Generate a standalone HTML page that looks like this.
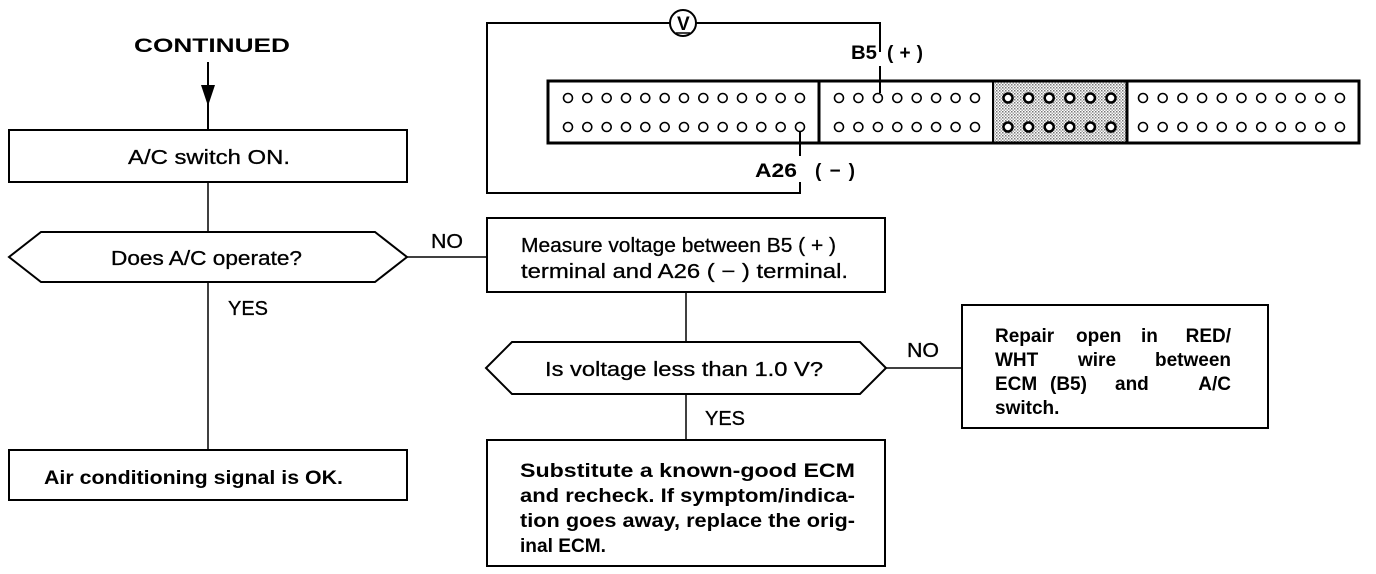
<!DOCTYPE html>
<html><head><meta charset="utf-8"><style>
html,body{margin:0;padding:0;background:#fff;}
svg{display:block;}
text{font-family:"Liberation Sans",sans-serif;fill:#000;}
.n{font-size:20px;stroke:#000;stroke-width:0.3;}
.b{font-size:19px;font-weight:bold;}
</style></head><body>
<svg width="1376" height="574" viewBox="0 0 1376 574" xmlns="http://www.w3.org/2000/svg">
<defs>
<pattern id="dots" width="3" height="3" patternUnits="userSpaceOnUse">
<rect width="3" height="3" fill="#fff"/><rect width="1.5" height="1.5" fill="#777"/><rect x="1.5" y="1.5" width="1.5" height="1.5" fill="#aaa"/>
</pattern>
</defs>
<g fill="none" stroke="#000">
<line x1="208" y1="62" x2="208" y2="130" stroke-width="2"/>
<polygon points="201,85 215,85 208,106" fill="#000" stroke="none"/>
<rect x="9" y="130" width="398" height="52" stroke-width="2"/>
<line x1="208" y1="182" x2="208" y2="232" stroke-width="1.5"/>
<polygon points="41,232 375,232 407,257 375,282 41,282 9,257" stroke-width="2"/>
<line x1="208" y1="282" x2="208" y2="450" stroke-width="1.5"/>
<rect x="9" y="450" width="398" height="50" stroke-width="2"/>
<line x1="407" y1="257" x2="487" y2="257" stroke-width="1.5"/>
<rect x="487" y="218" width="398" height="74" stroke-width="2"/>
<line x1="686" y1="292" x2="686" y2="342" stroke-width="1.5"/>
<polygon points="512,342 860,342 886,368 860,394 512,394 486,368" stroke-width="2"/>
<line x1="686" y1="394" x2="686" y2="440" stroke-width="1.5"/>
<rect x="487" y="440" width="398" height="126" stroke-width="2"/>
<line x1="886" y1="368" x2="962" y2="368" stroke-width="1.5"/>
<rect x="962" y="305" width="306" height="123" stroke-width="2"/>
<polyline points="670,23 487,23 487,193 800,193 800,182" stroke-width="2"/>
<polyline points="696,23 880,23 880,52" stroke-width="2"/>
<circle cx="683" cy="23" r="13" stroke-width="2"/>
<line x1="880" y1="66" x2="880" y2="93" stroke-width="2"/>
<line x1="800" y1="131" x2="800" y2="156" stroke-width="2"/>
<rect x="993" y="81" width="134" height="62" fill="url(#dots)" stroke="none"/>
<rect x="548" y="81" width="811" height="62" stroke-width="3"/>
<line x1="819" y1="81" x2="819" y2="143" stroke-width="3"/>
<line x1="993" y1="81" x2="993" y2="143" stroke-width="2"/>
<line x1="1127" y1="81" x2="1127" y2="143" stroke-width="3"/>
</g>
<g fill="#fff" stroke="#000" stroke-width="1.6">
<circle cx="568" cy="98" r="4.5"/><circle cx="587.3" cy="98" r="4.5"/><circle cx="606.7" cy="98" r="4.5"/><circle cx="626" cy="98" r="4.5"/><circle cx="645.3" cy="98" r="4.5"/><circle cx="664.7" cy="98" r="4.5"/><circle cx="684" cy="98" r="4.5"/><circle cx="703.3" cy="98" r="4.5"/><circle cx="722.7" cy="98" r="4.5"/><circle cx="742" cy="98" r="4.5"/><circle cx="761.3" cy="98" r="4.5"/><circle cx="780.7" cy="98" r="4.5"/><circle cx="800" cy="98" r="4.5"/>
<circle cx="568" cy="127" r="4.5"/><circle cx="587.3" cy="127" r="4.5"/><circle cx="606.7" cy="127" r="4.5"/><circle cx="626" cy="127" r="4.5"/><circle cx="645.3" cy="127" r="4.5"/><circle cx="664.7" cy="127" r="4.5"/><circle cx="684" cy="127" r="4.5"/><circle cx="703.3" cy="127" r="4.5"/><circle cx="722.7" cy="127" r="4.5"/><circle cx="742" cy="127" r="4.5"/><circle cx="761.3" cy="127" r="4.5"/><circle cx="780.7" cy="127" r="4.5"/><circle cx="800" cy="127" r="4.5"/>
<circle cx="839" cy="98" r="4.5"/><circle cx="858.4" cy="98" r="4.5"/><circle cx="877.9" cy="98" r="4.5"/><circle cx="897.3" cy="98" r="4.5"/><circle cx="916.7" cy="98" r="4.5"/><circle cx="936.1" cy="98" r="4.5"/><circle cx="955.6" cy="98" r="4.5"/><circle cx="975" cy="98" r="4.5"/>
<circle cx="839" cy="127" r="4.5"/><circle cx="858.4" cy="127" r="4.5"/><circle cx="877.9" cy="127" r="4.5"/><circle cx="897.3" cy="127" r="4.5"/><circle cx="916.7" cy="127" r="4.5"/><circle cx="936.1" cy="127" r="4.5"/><circle cx="955.6" cy="127" r="4.5"/><circle cx="975" cy="127" r="4.5"/>
<g stroke-width="2.5">
<circle cx="1008" cy="98" r="4.5"/><circle cx="1028.6" cy="98" r="4.5"/><circle cx="1049.2" cy="98" r="4.5"/><circle cx="1069.8" cy="98" r="4.5"/><circle cx="1090.4" cy="98" r="4.5"/><circle cx="1111" cy="98" r="4.5"/>
<circle cx="1008" cy="127" r="4.5"/><circle cx="1028.6" cy="127" r="4.5"/><circle cx="1049.2" cy="127" r="4.5"/><circle cx="1069.8" cy="127" r="4.5"/><circle cx="1090.4" cy="127" r="4.5"/><circle cx="1111" cy="127" r="4.5"/>
</g>
<circle cx="1143" cy="98" r="4.5"/><circle cx="1162.7" cy="98" r="4.5"/><circle cx="1182.4" cy="98" r="4.5"/><circle cx="1202.1" cy="98" r="4.5"/><circle cx="1221.8" cy="98" r="4.5"/><circle cx="1241.5" cy="98" r="4.5"/><circle cx="1261.2" cy="98" r="4.5"/><circle cx="1280.9" cy="98" r="4.5"/><circle cx="1300.6" cy="98" r="4.5"/><circle cx="1320.3" cy="98" r="4.5"/><circle cx="1340" cy="98" r="4.5"/>
<circle cx="1143" cy="127" r="4.5"/><circle cx="1162.7" cy="127" r="4.5"/><circle cx="1182.4" cy="127" r="4.5"/><circle cx="1202.1" cy="127" r="4.5"/><circle cx="1221.8" cy="127" r="4.5"/><circle cx="1241.5" cy="127" r="4.5"/><circle cx="1261.2" cy="127" r="4.5"/><circle cx="1280.9" cy="127" r="4.5"/><circle cx="1300.6" cy="127" r="4.5"/><circle cx="1320.3" cy="127" r="4.5"/><circle cx="1340" cy="127" r="4.5"/>
</g>
<text x="677" y="30" class="b" font-size="18">V</text>
<line x1="676" y1="33" x2="690" y2="33" stroke="#000" stroke-width="1.5"/>
<text x="851" y="59" class="b" textLength="26" lengthAdjust="spacingAndGlyphs">B5</text>
<text x="887" y="59" class="b" textLength="36" lengthAdjust="spacing">( + )</text>
<text x="755" y="177" class="b" textLength="42" lengthAdjust="spacingAndGlyphs">A26</text>
<text x="815" y="177" class="b" textLength="40" lengthAdjust="spacing">( − )</text>
<text x="134" y="52" class="b" font-size="22" textLength="156" lengthAdjust="spacingAndGlyphs">CONTINUED</text>
<text x="128" y="164" class="n" textLength="162" lengthAdjust="spacingAndGlyphs">A/C switch ON.</text>
<text x="111" y="265" class="n" textLength="191" lengthAdjust="spacingAndGlyphs">Does A/C operate?</text>
<text x="228" y="315" class="n" textLength="40" lengthAdjust="spacingAndGlyphs">YES</text>
<text x="431" y="248" class="n" textLength="32" lengthAdjust="spacingAndGlyphs">NO</text>
<text x="44" y="484" class="b" textLength="299" lengthAdjust="spacingAndGlyphs">Air conditioning signal is OK.</text>
<text x="521" y="252" class="n" textLength="315" lengthAdjust="spacingAndGlyphs">Measure voltage between B5 ( + )</text>
<text x="521" y="278" class="n" textLength="327" lengthAdjust="spacingAndGlyphs">terminal and A26 ( − ) terminal.</text>
<text x="545" y="376" class="n" textLength="278" lengthAdjust="spacingAndGlyphs">Is voltage less than 1.0 V?</text>
<text x="705" y="425" class="n" textLength="40" lengthAdjust="spacingAndGlyphs">YES</text>
<text x="907" y="357" class="n" textLength="32" lengthAdjust="spacingAndGlyphs">NO</text>
<text x="520" y="477" class="b" textLength="335" lengthAdjust="spacingAndGlyphs">Substitute a known-good ECM</text>
<text x="520" y="502" class="b" textLength="335" lengthAdjust="spacingAndGlyphs">and recheck. If symptom/indica-</text>
<text x="520" y="527" class="b" textLength="335" lengthAdjust="spacingAndGlyphs">tion goes away, replace the orig-</text>
<text x="520" y="552" class="b" textLength="86" lengthAdjust="spacingAndGlyphs">inal ECM.</text>
<text x="995" y="342" class="b">Repair</text><text x="1076" y="342" class="b">open</text><text x="1141" y="342" class="b">in</text><text x="1231" y="342" class="b" text-anchor="end">RED/</text>
<text x="995" y="366" class="b">WHT</text><text x="1078" y="366" class="b">wire</text><text x="1231" y="366" class="b" text-anchor="end">between</text>
<text x="995" y="390" class="b">ECM</text><text x="1050" y="390" class="b">(B5)</text><text x="1115" y="390" class="b">and</text><text x="1231" y="390" class="b" text-anchor="end">A/C</text>
<text x="995" y="414" class="b">switch.</text>
</svg>
</body></html>
